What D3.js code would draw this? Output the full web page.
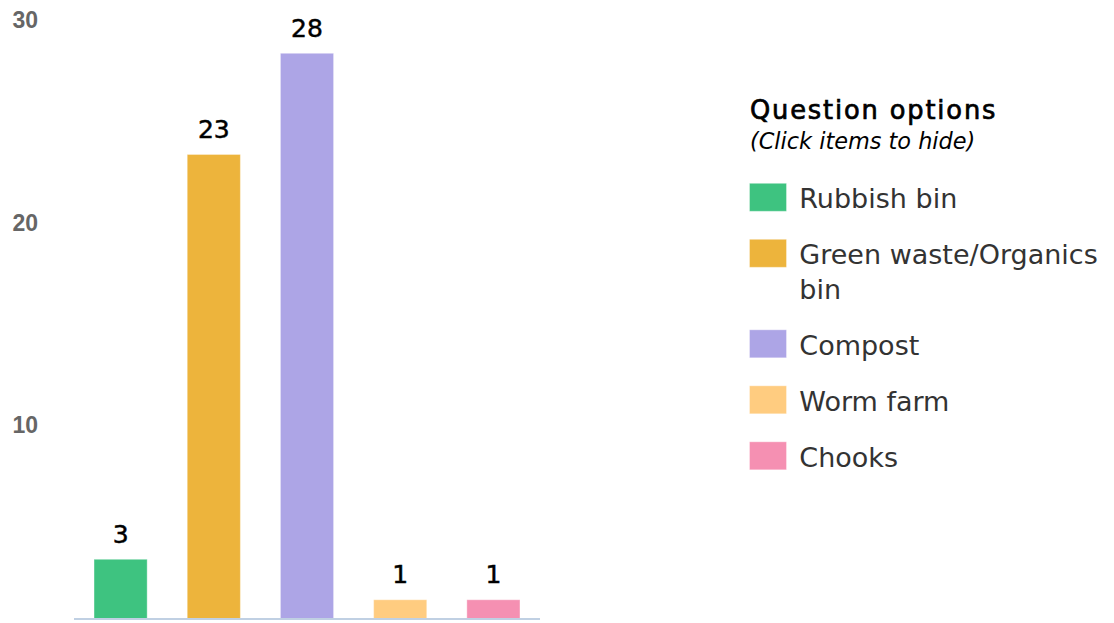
<!DOCTYPE html>
<html>
<head>
<meta charset="utf-8">
<script src="https://cdn.jsdelivr.net/npm/d3@7/dist/d3.min.js"></script>
<style>
  html, body { margin: 0; padding: 0; background: #fff; }
  svg { display: block; }
</style>
</head>
<body>
<svg id="chart" width="1114" height="623"></svg>
<script>
const categories = ["Rubbish bin", "Green waste/Organics bin", "Compost", "Worm farm", "Chooks"];
const values = [3, 23, 28, 1, 1];
const colors = ["#3ec380", "#edb43c", "#ada5e6", "#ffcc80", "#f590b2"];
const yTicks = [10, 20, 30];
const legendTitle = "Question options";
const legendSubtitle = "(Click items to hide)";

const svg = d3.select("#chart");

const x = d3.scaleBand()
  .domain(categories)
  .range([74, 540])
  .paddingInner(0.43)
  .paddingOuter(0.215);

const y = d3.scaleLinear()
  .domain([0, 30])
  .range([620, 12.8]);

// y-axis labels
const yAxis = d3.axisLeft(y).tickValues(yTicks).tickSize(0).tickPadding(0);
const gy = svg.append("g").attr("transform", "translate(38,0)").call(yAxis);
gy.select(".domain").remove();
gy.selectAll("text")
  .attr("x", 0)
  .attr("dy", "0.95em")
  .attr("y", -7)
  .style("font-family", "'Liberation Sans', Arial, sans-serif")
  .style("font-weight", "bold")
  .style("font-size", "23px")
  .style("fill", "#666");

// bars
svg.append("g").selectAll("rect")
  .data(categories)
  .join("rect")
  .attr("x", d => x(d))
  .attr("width", x.bandwidth())
  .attr("y", (d, i) => y(values[i]))
  .attr("height", (d, i) => y(0) - y(values[i]))
  .attr("fill", (d, i) => colors[i])
  .attr("stroke", "rgba(255,255,255,0.35)")
  .attr("stroke-width", 1);

// value labels
svg.append("g").selectAll("text")
  .data(categories)
  .join("text")
  .attr("x", d => x(d) + x.bandwidth() / 2)
  .attr("y", (d, i) => y(values[i]) - 16.5)
  .attr("text-anchor", "middle")
  .style("font-family", "'DejaVu Sans', sans-serif")
  .style("font-size", "25px")
  .style("fill", "#000")
  .style("stroke", "#000")
  .style("stroke-width", "0.5px")
  .text((d, i) => values[i]);

// baseline
svg.append("line")
  .attr("x1", 74).attr("x2", 540)
  .attr("y1", 619).attr("y2", 619)
  .attr("stroke", "#c0d0e3")
  .attr("stroke-width", 2);

// legend
const lg = svg.append("g");
lg.append("text")
  .attr("x", 750).attr("y", 119.3)
  .style("font-family", "'DejaVu Sans', sans-serif")
  .style("font-size", "25.7px")
  .style("letter-spacing", "1.85px")
  .style("fill", "#000")
  .style("stroke", "#000")
  .style("stroke-width", "0.7px")
  .text(legendTitle);
lg.append("text")
  .attr("x", 750).attr("y", 148.5)
  .style("font-family", "'DejaVu Sans', sans-serif")
  .style("font-style", "italic")
  .style("font-size", "22.4px")
  .style("fill", "#000")
  .text(legendSubtitle);

const maxW = 310;
const lineH = 34.5;
let cursor = 183.3;
categories.forEach((c, i) => {
  const g = lg.append("g");
  g.append("rect")
    .attr("x", 749.5).attr("y", cursor)
    .attr("width", 37).attr("height", 28)
    .attr("fill", colors[i])
    .attr("stroke", "rgba(255,255,255,0.35)")
    .attr("stroke-width", 1);
  const t = g.append("text")
    .attr("x", 799.3).attr("y", cursor + 25)
    .style("font-family", "'DejaVu Sans', sans-serif")
    .style("font-size", "27px")
    .style("fill", "#333");
  const words = c.split(" ");
  let line = [];
  let lines = 1;
  let tspan = t.append("tspan").attr("x", 799.3).attr("dy", 0);
  words.forEach(w => {
    line.push(w);
    tspan.text(line.join(" "));
    if (tspan.node().getComputedTextLength() > maxW && line.length > 1) {
      line.pop();
      tspan.text(line.join(" "));
      line = [w];
      tspan = t.append("tspan").attr("x", 799.3).attr("dy", lineH).text(w);
      lines++;
    }
  });
  cursor += lines * lineH + 21.5;
});
</script>
</body>
</html>
